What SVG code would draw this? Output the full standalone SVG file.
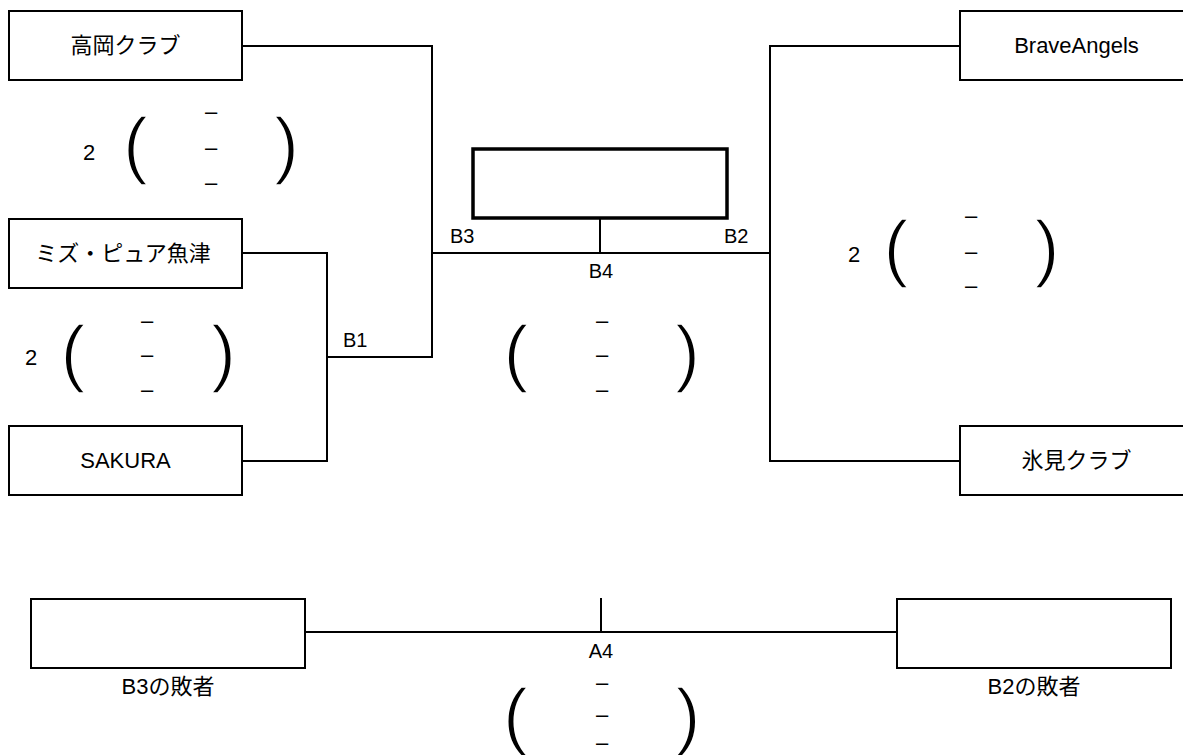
<svg xmlns="http://www.w3.org/2000/svg" width="1183" height="755" viewBox="0 0 1183 755">
<style>
.box{fill:#fff;stroke:#000;stroke-width:2}
.thick{fill:#fff;stroke:#000;stroke-width:3.5}
.ln{fill:none;stroke:#000;stroke-width:2}
.t{font-family:"Liberation Sans","Noto Sans CJK JP",sans-serif;font-size:22px;fill:#000;text-anchor:middle}
.lbl{font-family:"Liberation Sans",sans-serif;font-size:20px;fill:#000}
.par{font-family:"Liberation Sans",sans-serif;font-size:75px;fill:#000;stroke:#fff;stroke-width:1.6;text-anchor:middle}
.d{font-family:"Liberation Sans",sans-serif;font-size:22px;fill:#000;text-anchor:middle}
.n{font-family:"Liberation Sans",sans-serif;font-size:22px;fill:#000;text-anchor:middle}
</style>
<rect width="1183" height="755" fill="#fff"/>
<g id="connectors">
<polyline class="ln" points="242,46 432,46 432,357 327,357"/>
<polyline class="ln" points="242,253 327,253 327,461 242,461"/>
<line class="ln" x1="432" y1="253" x2="770" y2="253"/>
<line class="ln" x1="600" y1="218" x2="600" y2="253"/>
<polyline class="ln" points="960,46 770,46 770,461 960,461"/>
<line class="ln" x1="305" y1="632" x2="897" y2="632"/>
<line class="ln" x1="601" y1="598" x2="601" y2="632"/>
</g>
<g id="takaoka"><rect class="box" x="9" y="11" width="233" height="69"/><text class="t" x="125.5" y="53">高岡クラブ</text></g>
<g id="mizu"><rect class="box" x="9" y="219" width="233" height="69"/><text class="t" x="123" y="261">ミズ・ピュア魚津</text></g>
<g id="sakura"><rect class="box" x="9" y="426" width="233" height="69"/><text class="t" x="125.5" y="468">SAKURA</text></g>
<g id="brave"><rect class="box" x="960" y="11" width="233" height="69"/><text class="t" x="1076.5" y="53">BraveAngels</text></g>
<g id="himi"><rect class="box" x="960" y="426" width="233" height="69"/><text class="t" x="1076.5" y="468">氷見クラブ</text></g>
<g id="final"><rect class="thick" x="473" y="149" width="254" height="69"/></g>
<g id="loserB3"><rect class="box" x="31" y="599" width="274" height="69"/><text class="t" x="168" y="694">B3の敗者</text></g>
<g id="loserB2"><rect class="box" x="897" y="599" width="274" height="69"/><text class="t" x="1034" y="694">B2の敗者</text></g>
<g id="labels">
<text class="lbl" x="343" y="347">B1</text>
<text class="lbl" x="450" y="243">B3</text>
<text class="lbl" x="724" y="243">B2</text>
<text class="lbl" x="601" y="278" text-anchor="middle">B4</text>
<text class="lbl" x="601" y="658" text-anchor="middle">A4</text>
</g>
<g id="score-tl">
<text class="n" x="89" y="160">2</text>
<text class="par" x="135.5" y="169.6">(</text>
<text class="par" x="286.5" y="169.6">)</text>
<text class="d" x="211" y="119">–</text>
<text class="d" x="211" y="155">–</text>
<text class="d" x="211" y="190">–</text>
</g>
<g id="score-lm">
<text class="n" x="31" y="365">2</text>
<text class="par" x="73" y="377.6">(</text>
<text class="par" x="223.5" y="377.6">)</text>
<text class="d" x="147" y="328">–</text>
<text class="d" x="147" y="362">–</text>
<text class="d" x="147" y="397">–</text>
</g>
<g id="score-c">
<text class="par" x="516" y="377.6">(</text>
<text class="par" x="687.5" y="377.6">)</text>
<text class="d" x="602" y="328">–</text>
<text class="d" x="602" y="362">–</text>
<text class="d" x="602" y="397">–</text>
</g>
<g id="score-r">
<text class="n" x="854" y="262">2</text>
<text class="par" x="896" y="272.6">(</text>
<text class="par" x="1047" y="272.6">)</text>
<text class="d" x="971" y="223">–</text>
<text class="d" x="971" y="259">–</text>
<text class="d" x="971" y="293">–</text>
</g>
<g id="score-b">
<text class="par" x="515.5" y="740.6">(</text>
<text class="par" x="688" y="740.6">)</text>
<text class="d" x="602" y="690">–</text>
<text class="d" x="602" y="722">–</text>
<text class="d" x="602" y="750">–</text>
</g>
</svg>
